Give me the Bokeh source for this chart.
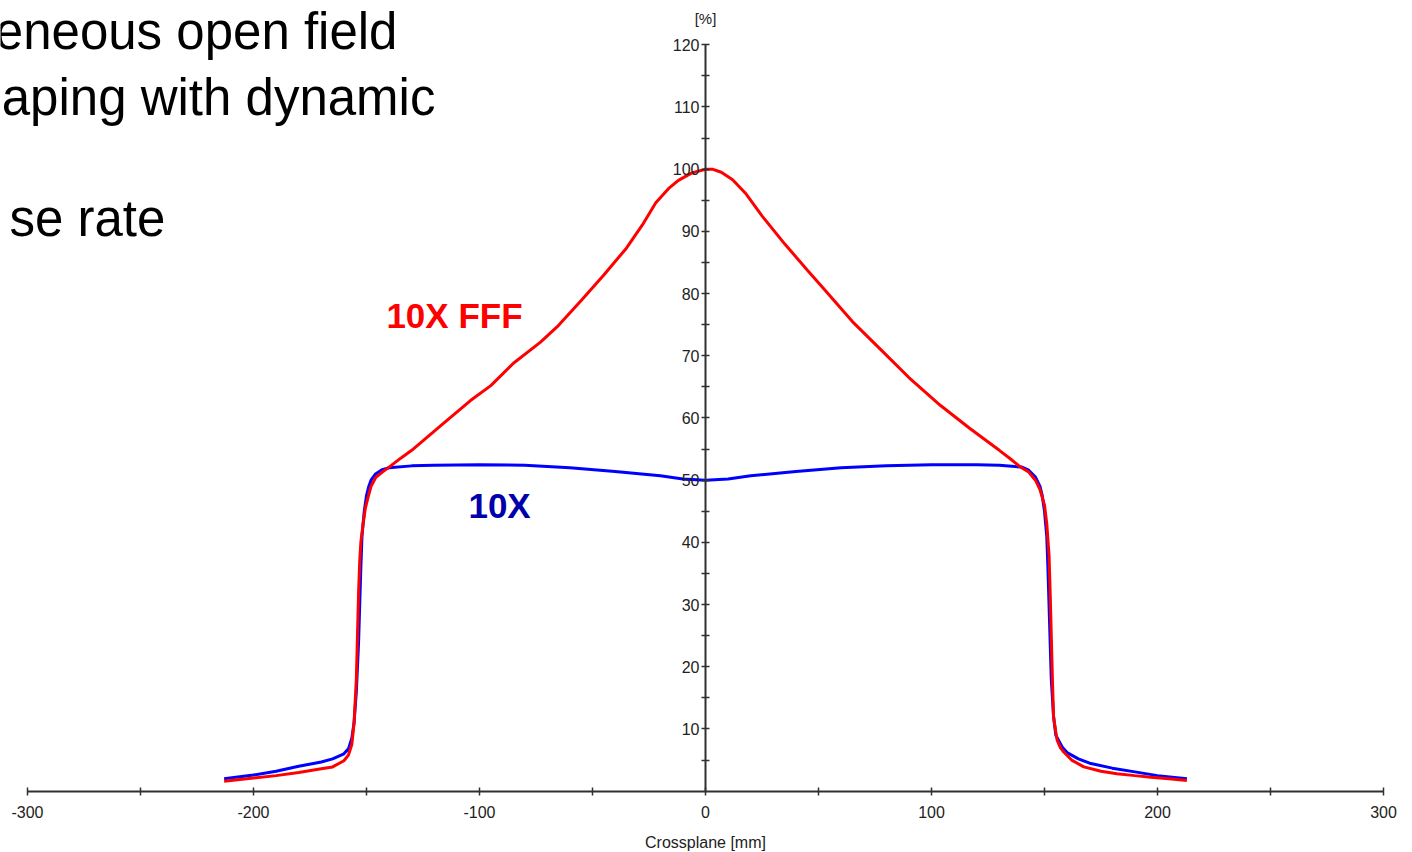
from bokeh.plotting import figure
from bokeh.models import Range1d, LinearAxis, FixedTicker, PrintfTickFormatter
from bokeh.core.properties import value
from bokeh.embed import file_html
from bokeh.resources import INLINE

# ---- data ----
x_10x = [-213, -200, -190, -180, -170, -165, -160, -158, -156.5, -155.5, -154.5, -153.5, -153,
         -152.5, -152, -151, -150, -149, -148, -146, -143, -140, -130, -120, -100, -80, -60,
         -40, -20, -10, 0, 10, 20, 40, 60, 80, 100, 120, 130, 140, 143, 146, 148, 149, 150,
         151, 151.5, 152, 152.5, 153, 154, 155, 156.5, 158, 160, 165, 170, 180, 190, 200, 213]
y_10x = [2.0, 2.6, 3.2, 4.0, 4.7, 5.2, 6.0, 6.8, 8.5, 11, 16, 24, 30,
         36, 41, 45, 47.5, 49, 50, 51, 51.7, 52.0, 52.3, 52.4, 52.5, 52.4, 52.0,
         51.4, 50.7, 50.2, 50.0, 50.2, 50.7, 51.4, 52.0, 52.3, 52.5, 52.5, 52.4, 52.1, 51.6,
         50.5, 49, 47.5, 45, 41, 36, 30, 24, 18, 12, 9, 8, 7.0, 6.2, 5.2, 4.5, 3.7, 3.1, 2.5, 2.0]

x_fff = [-213, -200, -190, -180, -170, -165, -160, -158, -156.5, -155.5, -154.5, -154, -153.5,
         -153, -152.5, -151.5, -150.5, -149.5, -148, -146, -143, -140, -135, -130, -117, -104,
         -95, -85, -73, -65, -55, -45, -35, -28, -22, -16, -12, -6, 0, 3, 7, 12, 18, 25, 35,
         45, 53, 65, 77, 90, 104, 117, 130, 135, 139, 143, 146, 148, 150, 151, 152, 152.5, 153,
         153.5, 154, 155, 155.6, 157, 158.5, 162, 167.4, 175, 182, 190, 197, 205, 213]
y_fff = [1.6, 2.1, 2.5, 3.0, 3.6, 3.9, 4.9, 5.8, 7.5, 11, 18, 25, 32,
         37, 40, 43, 45.5, 47, 49, 50.4, 51.3, 52.1, 53.5, 54.8, 58.8, 62.8,
         65.2, 68.8, 72.2, 74.9, 78.9, 83, 87.3, 91, 94.6, 97, 98.2, 99.4, 100, 100, 99.5, 98.3,
         96, 92.5, 88, 83.8, 80.5, 75.5, 71.2, 66.5, 62, 58.3, 54.8, 53.4, 52.2, 51.3, 50, 48.5,
         46, 43, 38, 32, 25, 18, 12, 9.5, 8.2, 7, 6.3, 5, 3.9, 3.2, 2.8, 2.5, 2.25, 2.0, 1.7]

x_ticks = [-300, -200, -100, 0, 100, 200, 300]
x_minor = [-250, -150, -50, 50, 150, 250]
y_ticks = [10, 20, 30, 40, 50, 60, 70, 80, 90, 100, 110, 120]
y_minor = [5, 15, 25, 35, 45, 55, 65, 75, 85, 95, 105, 115]

series_labels = ["10X FFF", "10X"]
series_label_colors = ["#ff0000", "#0000aa"]
series_label_x = [-141.2, -104.9]
series_label_y = [76.4, 45.85]

slide_lines = ["eneous open field", "aping with dynamic", "se rate"]
slide_x = [-136.3, -119.5, -239.0]
slide_y = [122.1, 111.5, 92.07]

# ---- figure ----
p = figure(width=1412, height=852, output_backend="svg", toolbar_location=None,
           x_range=Range1d(-311.95, 312.83), y_range=Range1d(-9.86, 127.12),
           x_axis_location=None, y_axis_location=None, min_border=0)
p.grid.visible = False
p.outline_line_color = None
p.background_fill_color = "white"
p.border_fill_color = "white"

axis_color = "#303030"
label_font = "Liberation Sans"

xaxis = LinearAxis(fixed_location=0, bounds=(-300, 300),
                   ticker=FixedTicker(ticks=x_ticks, minor_ticks=x_minor),
                   formatter=PrintfTickFormatter(format="%d"),
                   axis_label="Crossplane [mm]")
xaxis.axis_line_color = axis_color
xaxis.axis_line_width = 2
xaxis.major_tick_line_color = axis_color
xaxis.minor_tick_line_color = axis_color
xaxis.major_tick_line_width = 1.5
xaxis.minor_tick_line_width = 1.5
xaxis.major_tick_in = 4
xaxis.major_tick_out = 4
xaxis.minor_tick_in = 4
xaxis.minor_tick_out = 4
xaxis.major_label_text_font = label_font
xaxis.major_label_text_font_size = "16px"
xaxis.major_label_text_color = "#222222"
xaxis.major_label_standoff = 11
xaxis.axis_label_text_font = label_font
xaxis.axis_label_text_font_size = "16px"
xaxis.axis_label_text_font_style = "normal"
xaxis.axis_label_text_color = "#222222"
xaxis.axis_label_standoff = 12
p.add_layout(xaxis, "below")

yaxis = LinearAxis(fixed_location=0, bounds=(0, 120),
                   ticker=FixedTicker(ticks=y_ticks, minor_ticks=y_minor),
                   formatter=PrintfTickFormatter(format="%d"))
yaxis.axis_line_color = axis_color
yaxis.axis_line_width = 2
yaxis.major_tick_line_color = axis_color
yaxis.minor_tick_line_color = axis_color
yaxis.major_tick_line_width = 1.5
yaxis.minor_tick_line_width = 1.5
yaxis.major_tick_in = 4
yaxis.major_tick_out = 4
yaxis.minor_tick_in = 4
yaxis.minor_tick_out = 4
yaxis.major_label_text_font = label_font
yaxis.major_label_text_font_size = "16px"
yaxis.major_label_text_color = "#222222"
yaxis.major_label_standoff = 2
p.add_layout(yaxis, "left")

# y unit label
p.text(x=[0], y=[124.2], text=["[%]"], text_font=value(label_font),
       text_font_size="15px", text_color="#222222", text_align="center",
       text_baseline="middle")

# curves
p.line(x_10x, y_10x, line_color="#0000ff", line_width=3)
p.line(x_fff, y_fff, line_color="#ff0000", line_width=3)

# series labels
p.text(x=series_label_x, y=series_label_y, text=series_labels,
       text_color=series_label_colors, text_font=value("Liberation Sans"),
       text_font_style="bold", text_font_size="35px", text_align="left",
       text_baseline="middle")

# slide text fragments (cut off at the left, as in the source slide)
p.text(x=slide_x, y=slide_y, text=slide_lines, text_color="#000000",
       text_font=value("Liberation Sans"), text_font_size="51px",
       text_align="right", text_baseline="alphabetic")

open("out.html", "w").write(file_html(p, INLINE))
